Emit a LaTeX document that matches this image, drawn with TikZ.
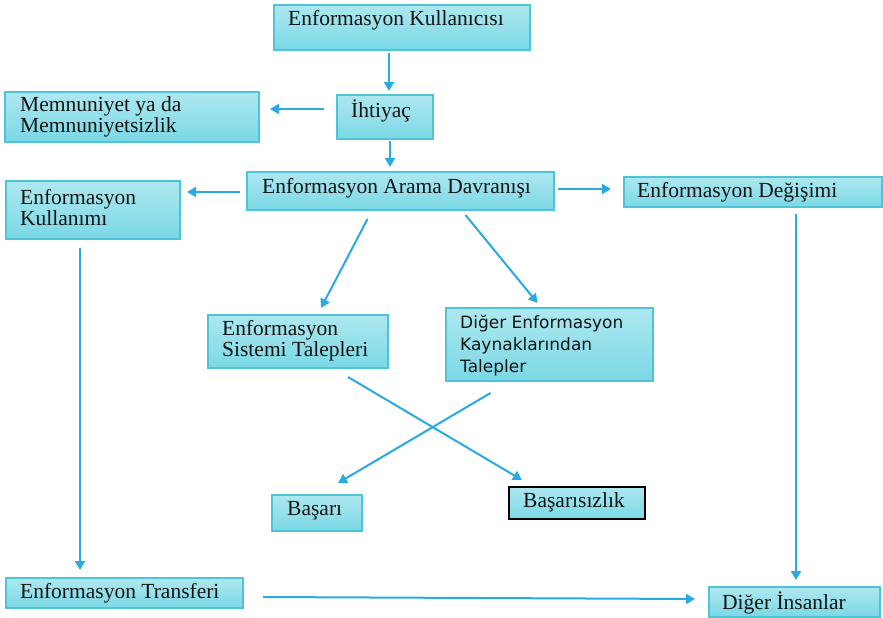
\documentclass[tikz,border=0pt]{standalone}
\usepackage{fontspec}
\setmainfont{Liberation Serif}
\newfontfamily\sansf{DejaVu Sans}
\usetikzlibrary{arrows.meta}
\definecolor{boxtop}{RGB}{174,232,240}
\definecolor{boxbot}{RGB}{122,216,229}
\definecolor{boxline}{RGB}{78,196,214}
\definecolor{arrc}{RGB}{41,170,226}
\definecolor{txtc}{RGB}{20,20,20}
\newcommand\mkbox[6][]{%
  \node[box,#1,anchor=north west,minimum width={(#5-#3)*1pt},minimum height={(#6-#4)*1pt}] (#2) at (#3,#4) {};}
\begin{document}
\begin{tikzpicture}[x=1pt,y=-1pt,
  box/.style={draw=boxline,line width=1.2pt,top color=boxtop,bottom color=boxbot,inner sep=0pt,outer sep=0pt},
  plain/.style={draw=black,line width=1.2pt,fill=white,inner sep=0pt,outer sep=0pt},
  txt/.style={text=txtc,inner sep=0pt,align=left,font=\fontsize{21.5}{21}\selectfont},
  stxt/.style={text=txtc,inner sep=0pt,align=left,font=\sansf\fontsize{17}{22}\selectfont},
  arr/.style={draw=arrc,line width=2pt,-{Triangle[length=9pt,width=10pt]}}]
\fill[white] (0,0) rectangle (883,618);
% boxes
\mkbox{k}{274}{5}{530}{50}
\mkbox{ih}{337}{95}{433}{139}
\mkbox{mem}{5}{92}{259}{142}
\mkbox{ar}{247}{172}{554}{210}
\mkbox{kul}{6}{181}{180}{239}
\mkbox{deg}{624}{177}{882}{207}
\mkbox{ist}{208}{315}{388}{368}
\mkbox{dig}{446}{308}{653}{381}
\mkbox{bas}{272}{495}{362}{531}
\mkbox[plain]{bsz}{509}{487}{645}{519}
\mkbox{tr}{6}{578}{243}{608}
\mkbox{di}{709}{587}{880}{617}
% texts
\node[txt,anchor=west] (kT) at (288,20) {Enformasyon Kullanıcısı};
\node[txt,anchor=west] (ihT) at (351,111) {İhtiyaç};
\node[txt,anchor=west] (memT) at (20,117) {Memnuniyet ya da\\Memnuniyetsizlik};
\node[txt,anchor=west] (arT) at (262,188) {Enformasyon Arama Davranışı};
\node[txt,anchor=west] (kulT) at (20,208) {Enformasyon\\Kullanımı};
\node[txt,anchor=west] (degT) at (637,192) {Enformasyon Değişimi};
\node[txt,anchor=west] (istT) at (222,341) {Enformasyon\\Sistemi Talepleri};
\node[stxt,anchor=west] (digT) at (460,346) {Diğer Enformasyon\\Kaynaklarından\\Talepler};
\node[txt,anchor=west] (basT) at (287,511) {Başarı};
\node[txt,anchor=west] (bszT) at (523,502) {Başarısızlık};
\node[txt,anchor=west] (trT) at (20,593) {Enformasyon Transferi};
\node[txt,anchor=west] (diT) at (722,603) {Diğer İnsanlar};
% connectors
\draw[arr] ([xshift=-13pt,yshift=-3pt]k.south) -- ([xshift=4pt,yshift=4pt]ih.north);
\draw[arr] ([xshift=-13pt,yshift=8pt]ih.west) -- ([xshift=11pt,yshift=8pt]mem.east);
\draw[arr] ([xshift=5pt,yshift=-2pt]ih.south) -- ([xshift=-10.5pt,yshift=5pt]ar.north);
\draw[arr] ([xshift=-7pt,yshift=-1pt]ar.west) -- ([xshift=7pt,yshift=18pt]kul.east);
\draw[arr] ([xshift=4pt,yshift=2pt]ar.east) -- ([xshift=-13pt,yshift=3pt]deg.west);
\draw[arr] ([xshift=-33pt,yshift=-9pt]ar.south) -- ([xshift=23pt,yshift=7pt]ist.north);
\draw[arr] ([xshift=65pt,yshift=-5pt]ar.south) -- ([xshift=-12pt,yshift=5pt]dig.north);
\draw[arr] ([xshift=50pt,yshift=-9pt]ist.south) -- ([xshift=-55pt,yshift=7pt]bsz.north);
\draw[arr] ([xshift=-59pt,yshift=-12pt]dig.south) -- ([xshift=-24pt,yshift=12pt]bas.north east);
\draw[arr] ([xshift=-13pt,yshift=-9pt]kul.south) -- ([xshift=-44.5pt,yshift=8pt]tr.north);
\draw[arr] ([xshift=43pt,yshift=-7pt]deg.south) -- ([xshift=1.5pt,yshift=7pt]di.north);
\draw[arr] ([xshift=20pt,yshift=-4pt]tr.east) -- ([xshift=-14pt,yshift=3pt]di.west);
\end{tikzpicture}
\end{document}
